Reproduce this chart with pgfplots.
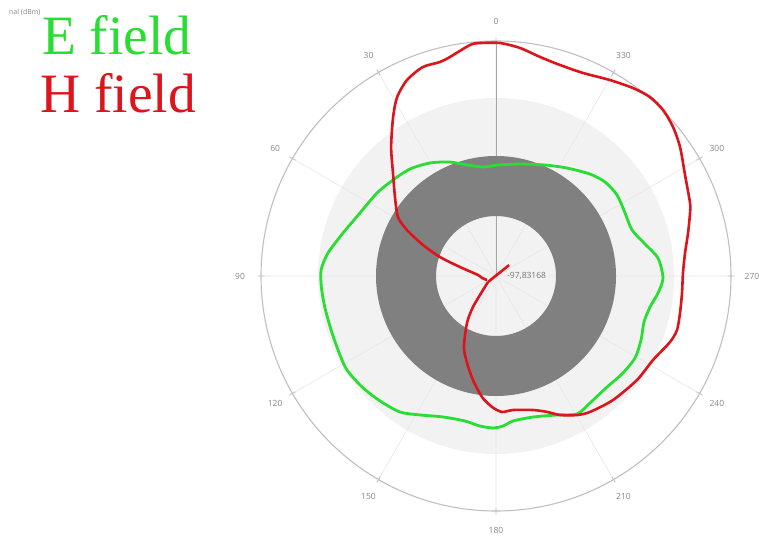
\documentclass[border=0pt]{standalone}
\usepackage{pgfplots}
\pgfplotsset{compat=1.18}
\usepgfplotslibrary{polar}
\usepackage{pgfplotstable}
\usepackage{fontspec}
\setmainfont{Liberation Serif}
\newfontfamily\labelfont{Open Sans}

\definecolor{efield}{RGB}{40,222,50}
\definecolor{hfield}{RGB}{220,20,28}
\definecolor{bandlight}{RGB}{242,242,242}
\definecolor{banddark}{RGB}{128,128,128}
\definecolor{gridgray}{RGB}{232,232,232}
\definecolor{ringgray}{RGB}{192,192,192}
\definecolor{labelgray}{RGB}{135,135,135}

% H field pattern: angle (deg, 0 at top, counter-clockwise), radius
\pgfplotstableread{
a r
126.9 10.0
137.1 19.1
143.4 38.6
148.3 55.2
155.7 77.9
161.6 91.7
167.5 106.5
173.4 121.8
178.3 131.1
182.5 136.1
187.2 135.1
195.4 139.0
200.6 145.2
204.7 153.0
210.2 160.9
214.7 165.3
223.3 170.5
233.6 175.2
241.9 178.1
249.2 186.1
253.4 188.9
258.6 187.7
264.8 186.8
270.9 187.0
276.9 190.4
282.6 196.8
288.0 204.0
290.6 207.3
298.1 214.3
305.0 224.7
310.1 231.4
314.8 235.5
319.3 236.1
323.9 232.6
329.8 226.7
336.8 220.9
343.1 220.5
348.6 223.4
354.0 229.3
359.0 233.0
3.9 233.5
6.4 232.5
11.9 223.8
14.7 221.2
19.3 221.4
24.4 215.3
28.9 204.5
32.9 189.4
39.1 166.3
45.0 145.7
52.0 128.2
59.0 114.4
62.7 100.2
67.0 79.3
71.3 59.1
76.0 37.1
86.8 18.0
98.1 14.1
114.0 9.8
}\hfielddata

% first H field sample, joined straight to the start of the trace
\pgfplotstableread{
a r
309.8 17.0
126.9 10.0
}\hfieldstart

% E field pattern
\pgfplotstableread{
a r
359.5 111.0
6.8 109.8
14.6 114.7
22.0 122.9
30.3 130.9
38.8 137.3
47.0 140.8
55.1 145.1
65.1 149.9
74.3 158.9
82.2 169.6
88.0 175.0
93.6 175.0
100.6 174.0
109.2 173.6
116.9 174.9
122.2 176.2
129.6 174.0
137.1 170.5
144.8 166.5
151.3 158.4
159.4 150.6
167.9 148.3
173.9 150.9
178.9 152.0
182.7 150.2
186.7 146.0
194.7 145.8
203.7 151.8
210.4 160.0
216.5 158.0
225.0 157.0
232.1 159.6
239.5 161.4
246.2 158.5
252.7 155.0
258.6 157.1
264.0 162.9
269.3 167.0
276.3 163.0
282.1 152.4
288.7 143.6
296.0 143.6
303.8 145.6
310.8 143.9
317.3 138.7
326.7 129.2
336.2 121.3
347.9 114.5
359.5 111.0
}\efielddata

\pgfplotsset{
  radar/.style={
    at={(496,264)}, anchor=center,
    width=470pt, height=470pt, scale only axis,
    xmin=0, xmax=360, ymin=0, ymax=235,
    clip=false,
  },
}

\begin{document}
\begin{tikzpicture}[x=1pt,y=1pt]
\useasboundingbox[fill=white] (0,0) rectangle (759,540);

% light background disc
\fill[bandlight] (496,264) circle[radius=178];

% angular grid, outer ring and angle labels
\begin{polaraxis}[radar,
    xtick={0,30,...,330}, xticklabels={},
    ytick=\empty,
    xmajorgrids=true, ymajorgrids=false,
    major grid style={gridgray, line width=0.7pt},
    separate axis lines,
    x axis line style={ringgray, line width=1.1pt},
    y axis line style={draw=none},
    xtick align=center, major tick length=7pt,
    tick style={ringgray, line width=0.8pt},
  ]
  \addplot[gray!70, line width=0.8pt] coordinates {(90,0) (90,235)};
  \begin{scope}[every node/.style={font=\labelfont\fontsize{8.5}{10}\selectfont, text=labelgray}]
    \node at (axis cs:90,255)  {0};
    \node at (axis cs:120,255) {30};
    \node at (axis cs:150,255) {60};
    \node at (axis cs:180,256) {90};
    \node at (axis cs:210,255) {120};
    \node at (axis cs:240,255) {150};
    \node at (axis cs:270,254) {180};
    \node at (axis cs:300,255) {210};
    \node at (axis cs:330,255) {240};
    \node at (axis cs:0,256)   {270};
    \node at (axis cs:30,255)  {300};
    \node at (axis cs:60,255)  {330};
  \end{scope}
\end{polaraxis}

% dark band
\fill[banddark, even odd rule] (496,264) circle[radius=120] (496,264) circle[radius=60];

\node[anchor=west, inner sep=0pt, font=\labelfont\fontsize{8.5}{10}\selectfont, text=labelgray!90!black] at (507,264) {-97,83168};

% field patterns
\begin{polaraxis}[radar, hide axis, xtick=\empty, ytick=\empty]
  \addplot[efield, line width=2.8pt, smooth, tension=0.45]
    table[x expr=\thisrow{a}+90, y=r] {\efielddata};
  \addplot[hfield, line width=2.6pt]
    table[x expr=\thisrow{a}+90, y=r] {\hfieldstart};
  \addplot[hfield, line width=2.6pt, smooth, tension=0.45]
    table[x expr=\thisrow{a}+90, y=r] {\hfielddata};
\end{polaraxis}

% title and series names
\node[anchor=west, inner sep=0pt, font=\labelfont\fontsize{7}{8}\selectfont, text=labelgray] at (9,528) {nal (dBm)};
\node[anchor=base west, inner sep=0pt, text=efield, font=\fontsize{55.5}{60}\selectfont] at (42,485) {E field};
\node[anchor=base west, inner sep=0pt, text=hfield, font=\fontsize{55.5}{60}\selectfont] at (40,427) {H field};
\end{tikzpicture}
\end{document}
